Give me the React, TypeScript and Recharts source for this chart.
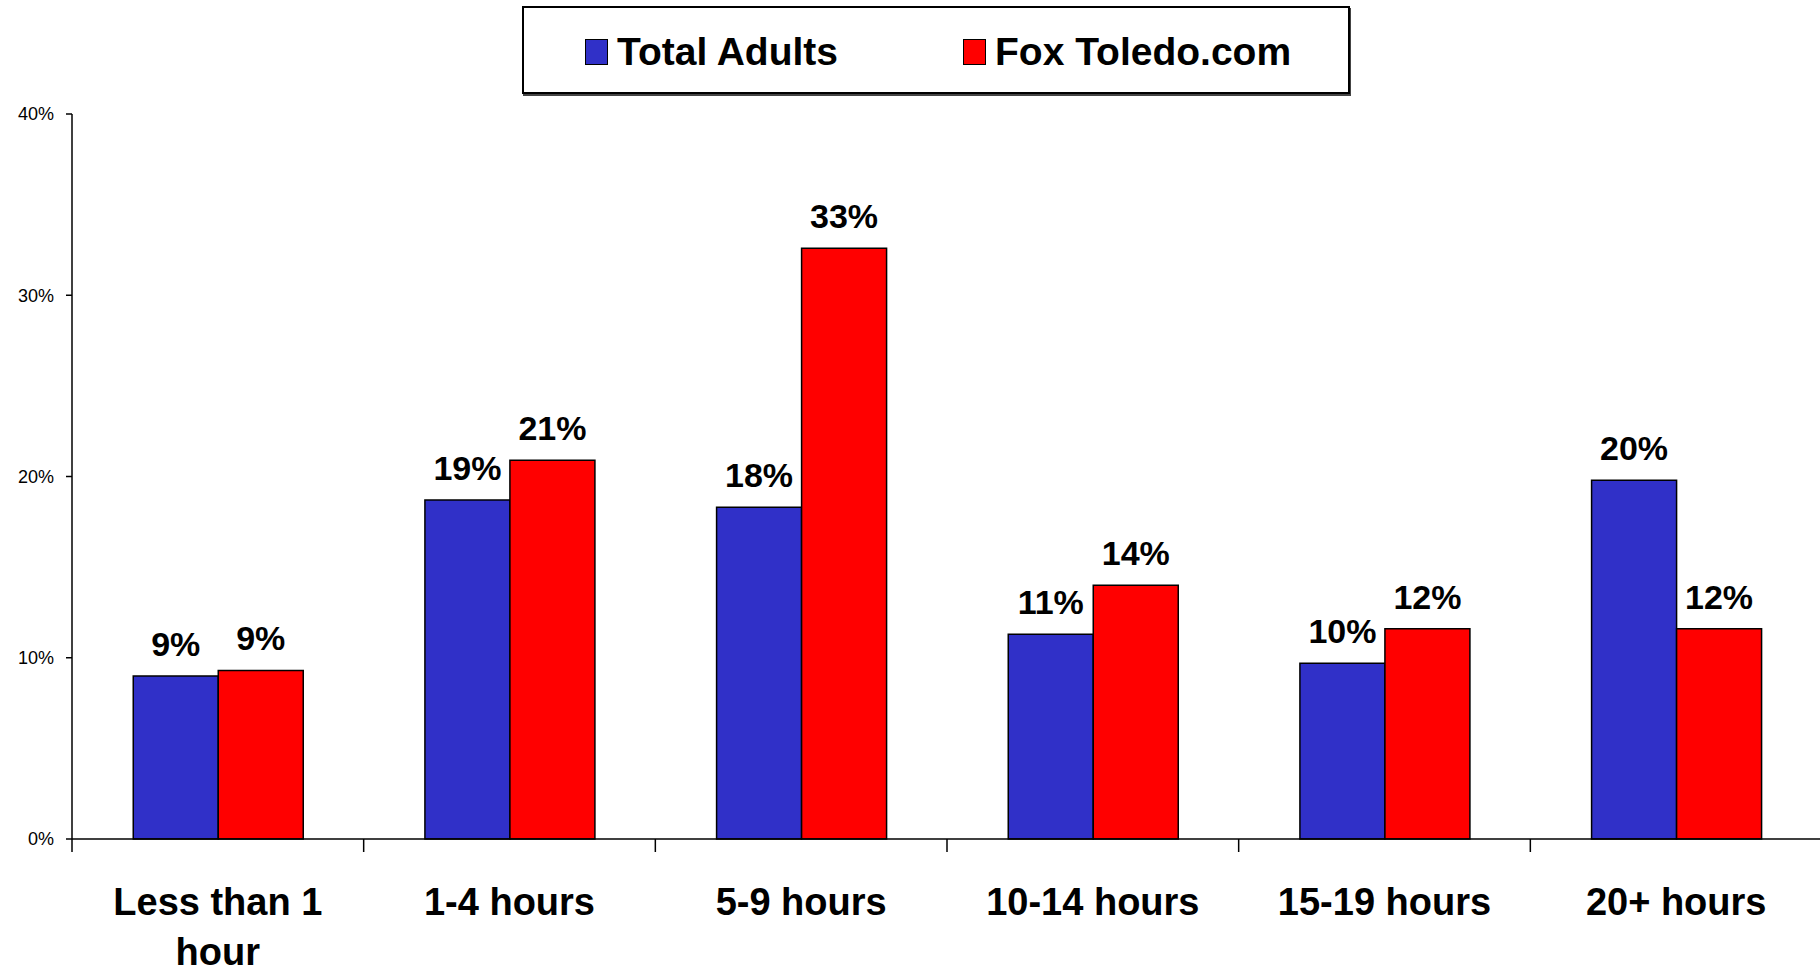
import React from "react";
import {
  BarChart,
  Bar,
  XAxis,
  YAxis,
  Legend,
  LabelList,
} from "recharts";

const CATEGORIES = [
  "Less than 1 hour",
  "1-4 hours",
  "5-9 hours",
  "10-14 hours",
  "15-19 hours",
  "20+ hours",
];
const TOTAL_ADULTS = [9.0, 18.7, 18.3, 11.3, 9.7, 19.8];
const FOX_TOLEDO = [9.3, 20.9, 32.6, 14.0, 11.6, 11.6];
const Y_TICKS = [0, 10, 20, 30, 40];

const SERIES = [
  { key: "totalAdults", name: "Total Adults", color: "#3030C8" },
  { key: "foxToledo", name: "Fox Toledo.com", color: "#FF0000" },
];

const FONT = "'Liberation Sans', Arial, Helvetica, sans-serif";
const CHART_W = 1820;
const CHART_H = 969;
const Y_AXIS_W = 72;

const data = CATEGORIES.map((category, i) => ({
  category,
  totalAdults: TOTAL_ADULTS[i],
  foxToledo: FOX_TOLEDO[i],
}));

// long labels go on two lines, the last word moves down
function wrapLabel(label: string) {
  if (label.length <= 14) return [label];
  const cut = label.lastIndexOf(" ");
  return [label.slice(0, cut), label.slice(cut + 1)];
}

// x ticks: category name below, plus a boundary tick on the left of each band
function CategoryTick(props: any) {
  const { x, y, payload } = props;
  const half =
    payload?.offset || (CHART_W - Y_AXIS_W) / CATEGORIES.length / 2;
  const lines = wrapLabel(String(payload.value));
  return (
    <g>
      <line x1={x - half} y1={y} x2={x - half} y2={y + 13} stroke="#000" strokeWidth={1.5} />
      <text
        x={x}
        y={y + 76}
        textAnchor="middle"
        fill="#000"
        fontSize={38}
        fontWeight="bold"
        fontFamily={FONT}
      >
        {lines.map((line, i) => (
          <tspan key={i} x={x} dy={i === 0 ? 0 : 50}>
            {line}
          </tspan>
        ))}
      </text>
    </g>
  );
}

function LegendBox() {
  return (
    <div
      style={{
        boxSizing: "border-box",
        width: 828,
        height: 88,
        border: "2px solid #000",
        boxShadow: "1px 2px 0 #444",
        background: "#fff",
        display: "flex",
        alignItems: "center",
        paddingLeft: 61,
        paddingTop: 4,
        fontFamily: FONT,
        fontWeight: "bold",
        fontSize: 39,
        color: "#000",
      }}
    >
      {SERIES.map((s) => (
        <div key={s.key} style={{ display: "flex", alignItems: "center", width: 378 }}>
          <span
            style={{
              display: "inline-block",
              boxSizing: "border-box",
              width: 23,
              height: 26,
              background: s.color,
              border: "1.5px solid #000",
              marginRight: 9,
            }}
          />
          <span>{s.name}</span>
        </div>
      ))}
    </div>
  );
}

export default function App() {
  return (
    <div style={{ position: "absolute", left: 0, top: 0, background: "#fff" }}>
      <BarChart
        width={CHART_W}
        height={CHART_H}
        data={data}
        margin={{ top: 114, right: -2, bottom: 0, left: 0 }}
        barCategoryGap="21%"
        barGap={0}
      >
        <XAxis
          dataKey="category"
          interval={0}
          tickLine={false}
          tickSize={0}
          tickMargin={0}
          height={130}
          stroke="#000"
          strokeWidth={1.5}
          tick={<CategoryTick />}
        />
        <YAxis
          domain={[0, 40]}
          ticks={Y_TICKS}
          width={Y_AXIS_W}
          tickFormatter={(v: number) => `${v}%`}
          tickSize={6}
          tickMargin={12}
          stroke="#000"
          strokeWidth={1.5}
          tick={{ fontSize: 18, fill: "#000", fontFamily: FONT }}
        />
        <Legend
          layout="vertical"
          align="center"
          verticalAlign="middle"
          wrapperStyle={{ top: 6, left: 522, width: 828 }}
          content={() => <LegendBox />}
        />
        {SERIES.map((s) => (
          <Bar
            key={s.key}
            dataKey={s.key}
            name={s.name}
            fill={s.color}
            stroke="#000"
            strokeWidth={1.5}
            isAnimationActive={false}
          >
            <LabelList
              dataKey={s.key}
              position="top"
              offset={20}
              formatter={(v: any) => `${Math.round(Number(v))}%`}
              style={{ fontSize: 34, fontWeight: "bold", fill: "#000", fontFamily: FONT }}
            />
          </Bar>
        ))}
      </BarChart>
    </div>
  );
}
